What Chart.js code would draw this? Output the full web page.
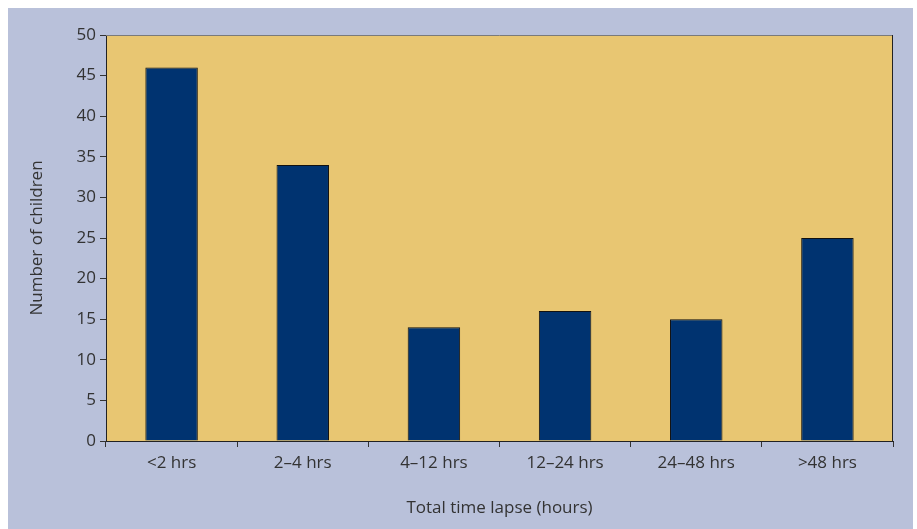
<!DOCTYPE html>
<html>
<head>
<meta charset="utf-8">
<script src="https://cdn.jsdelivr.net/npm/chart.js@4"></script>
<style>
  html, body { margin: 0; padding: 0; background: #ffffff; }
  #frame { position: absolute; left: 8px; top: 8px; width: 905px; height: 521px; background: #b9c1da; }
  #wrap { position: absolute; left: 0; top: 0; width: 917px; height: 529px; }
</style>
</head>
<body>
<div id="frame"></div>
<div id="wrap"><canvas id="c" width="917" height="529"></canvas></div>
<script>
// Children grouped by total time lapse before presentation
const categories = ['<2 hrs', '2–4 hrs', '4–12 hrs', '12–24 hrs', '24–48 hrs', '>48 hrs'];
const childCounts = [46, 34, 14, 16, 15, 25];
const yTicks = [0, 5, 10, 15, 20, 25, 30, 35, 40, 45, 50];

const textColor = '#333333';
const fontFamily = '"Open Sans", "Noto Sans", sans-serif';
const fontSize = 17;

// Fill the plotting area with the sand colour and outline it
const plotBackground = {
  id: 'plotBackground',
  beforeDraw(chart) {
    const { ctx, chartArea: a } = chart;
    ctx.save();
    ctx.fillStyle = '#e8c672';
    ctx.fillRect(a.left, a.top, a.right - a.left, a.bottom - a.top);
    ctx.restore();
  },
  afterDatasetsDraw(chart) {
    const { ctx, chartArea: a } = chart;
    ctx.save();
    ctx.lineWidth = 1;
    ctx.strokeStyle = '#7a7a7a';
    ctx.beginPath();
    ctx.moveTo(a.left, a.top + 0.5);
    ctx.lineTo(a.right, a.top + 0.5);
    ctx.stroke();
    ctx.strokeStyle = '#222222';
    ctx.beginPath();
    ctx.moveTo(a.right - 0.5, a.top);
    ctx.lineTo(a.right - 0.5, a.bottom);
    ctx.stroke();
    ctx.restore();
  }
};

new Chart(document.getElementById('c'), {
  type: 'bar',
  data: {
    labels: categories,
    datasets: [{
      data: childCounts,
      backgroundColor: '#003370',
      borderColor: '#111111',
      borderWidth: 1,
      categoryPercentage: 1.0,
      barPercentage: 0.4
    }]
  },
  options: {
    responsive: false,
    animation: false,
    devicePixelRatio: 1,
    layout: { padding: { left: 0, top: 35, right: 24, bottom: 0 } },
    plugins: { legend: { display: false }, tooltip: { enabled: false } },
    scales: {
      x: {
        offset: true,
        grid: { offset: true, drawOnChartArea: false, drawTicks: true, tickLength: 6, color: '#333333', lineWidth: 1 },
        border: { display: true, color: '#222222', width: 1 },
        ticks: { color: textColor, font: { family: fontFamily, size: fontSize }, padding: 6, maxRotation: 0 },
        title: { display: true, text: 'Total time lapse (hours)', color: textColor,
                 font: { family: fontFamily, size: fontSize }, padding: { top: 4, bottom: 11 } },
        afterFit(scale) { scale.height = 88; }
      },
      y: {
        min: 0,
        max: 50,
        afterBuildTicks(scale) { scale.ticks = yTicks.map(v => ({ value: v })); },
        grid: { drawOnChartArea: false, drawTicks: true, tickLength: 6, color: '#333333', lineWidth: 1 },
        border: { display: true, color: '#222222', width: 1 },
        ticks: { color: textColor, font: { family: fontFamily, size: fontSize }, padding: 4 },
        title: { display: true, text: 'Number of children', color: textColor,
                 font: { family: fontFamily, size: fontSize }, padding: { top: 27, bottom: 0 } },
        afterFit(scale) { scale.width = 106; }
      }
    }
  },
  plugins: [plotBackground]
});
</script>
</body>
</html>
